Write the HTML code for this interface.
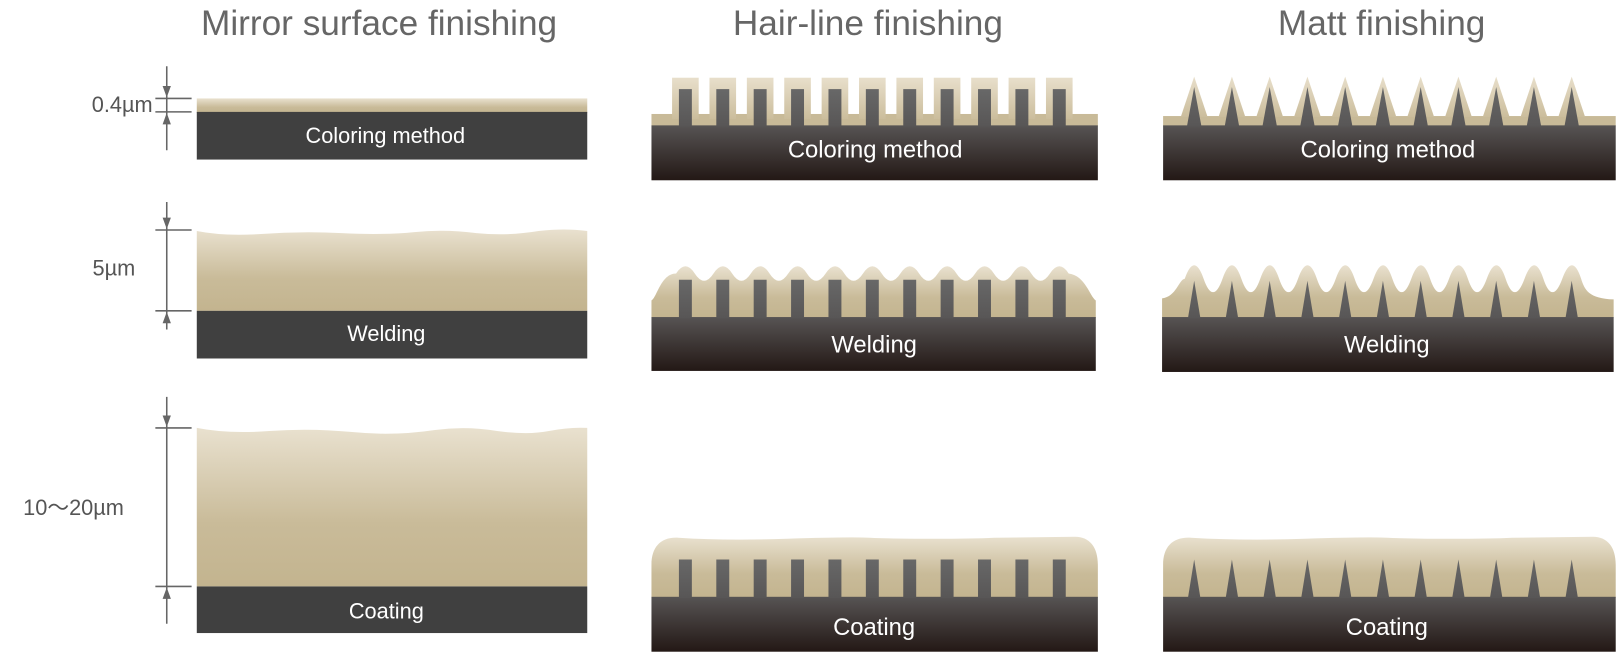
<!DOCTYPE html>
<html><head><meta charset="utf-8"><style>
html,body{margin:0;padding:0;background:#fff;}
svg{display:block;}
text{font-family:"Liberation Sans",sans-serif;}
</style></head><body>
<svg width="1624" height="660" viewBox="0 0 1568 637" preserveAspectRatio="none" xmlns="http://www.w3.org/2000/svg">
<defs>
<linearGradient id="tan" x1="0" y1="0" x2="0" y2="1"><stop offset="0" stop-color="#e9e1cf"/><stop offset="0.6" stop-color="#c9bb99"/><stop offset="1" stop-color="#c3b48f"/></linearGradient>
<linearGradient id="tanL" x1="0" y1="0" x2="0" y2="1"><stop offset="0" stop-color="#e8dfcb"/><stop offset="1" stop-color="#cbbd9c"/></linearGradient>
<linearGradient id="base" x1="0" y1="0" x2="0" y2="1"><stop offset="0" stop-color="#575454"/><stop offset="1" stop-color="#231815"/></linearGradient>
<linearGradient id="tooth" x1="0" y1="0" x2="0" y2="1"><stop offset="0" stop-color="#686868"/><stop offset="1" stop-color="#585656"/></linearGradient>
<g id="ht1"><rect x="-6.6" y="75" width="25.7" height="40" fill="url(#tanL)"/></g>
<g id="hd1"><rect x="0" y="86" width="12.5" height="36" fill="url(#tooth)"/></g>
<g id="hd2"><rect x="0" y="270" width="12.5" height="37" fill="url(#tooth)"/></g>
<g id="hd3"><rect x="0" y="540" width="12.5" height="37" fill="url(#tooth)"/></g>
<g id="mt1"><polygon points="-13,113 0,74 13,113" fill="url(#tanL)"/></g>
<g id="md1"><polygon points="-7,122 0,84 7,122" fill="url(#tooth)"/></g>
<g id="md2"><polygon points="-6,307 0,271 6,307" fill="url(#tooth)"/></g>
<g id="md3"><polygon points="-6,577 0,540 6,577" fill="url(#tooth)"/></g>
</defs>

<g fill="#666" font-size="34" text-anchor="middle">
<text x="366" y="34">Mirror surface finishing</text>
<text x="838" y="34">Hair-line finishing</text>
<text x="1334" y="34">Matt finishing</text>
</g>

<rect x="190" y="95" width="377" height="14" fill="url(#tan)"/>
<rect x="190" y="108" width="377" height="46" fill="#404040"/>
<path d="M190,300 L190,223 Q215,228 250,226 Q290,223 330,225 Q370,227 400,224 Q430,221 460,225 Q490,228 520,223 Q545,220 567,223 L567,300 Z" fill="url(#tan)"/>
<rect x="190" y="300" width="377" height="46" fill="#404040"/>
<path d="M190,566 L190,413 Q220,419 260,416 Q300,413 340,417 Q380,421 420,415 Q450,411 480,416 Q510,420 530,416 Q550,412 567,413 L567,566 Z" fill="url(#tan)"/>
<rect x="190" y="566" width="377" height="45" fill="#404040"/>
<g fill="#fff" font-size="21" text-anchor="middle">
<text x="372" y="138">Coloring method</text>
<text x="373" y="329">Welding</text>
<text x="373" y="597">Coating</text>
</g>
<g stroke="#666" stroke-width="1.5" fill="none">
<line x1="161" y1="64" x2="161" y2="145"/><line x1="150" y1="95" x2="185" y2="95"/><line x1="150" y1="108" x2="185" y2="108"/>
<line x1="161" y1="195" x2="161" y2="318"/><line x1="150" y1="222" x2="185" y2="222"/><line x1="150" y1="300" x2="185" y2="300"/>
<line x1="161" y1="383" x2="161" y2="602"/><line x1="150" y1="413" x2="185" y2="413"/><line x1="150" y1="566" x2="185" y2="566"/>
</g>
<g fill="#666">
<polygon points="157,83 165,83 161,94"/><polygon points="157,120 165,120 161,109"/>
<polygon points="157,210 165,210 161,221"/><polygon points="157,312 165,312 161,301"/>
<polygon points="157,401 165,401 161,412"/><polygon points="157,578 165,578 161,567"/>
</g>
<g fill="#555" font-size="21" text-anchor="middle">
<text x="118" y="108">0.4µm</text>
<text x="110" y="266">5µm</text>
<text x="71" y="497">10〜20µm</text>
</g>

<rect x="629" y="110" width="431" height="12" fill="#c8ba98"/>
<g>
<use href="#ht1" x="655.5"/><use href="#ht1" x="691.6"/><use href="#ht1" x="727.7"/><use href="#ht1" x="763.8"/><use href="#ht1" x="799.9"/><use href="#ht1" x="836"/><use href="#ht1" x="872.1"/><use href="#ht1" x="908.2"/><use href="#ht1" x="944.3"/><use href="#ht1" x="980.4"/><use href="#ht1" x="1016.5"/>
</g>
<rect x="629" y="121" width="431" height="53" fill="url(#base)"/>
<g>
<use href="#hd1" x="655.5"/><use href="#hd1" x="691.6"/><use href="#hd1" x="727.7"/><use href="#hd1" x="763.8"/><use href="#hd1" x="799.9"/><use href="#hd1" x="836"/><use href="#hd1" x="872.1"/><use href="#hd1" x="908.2"/><use href="#hd1" x="944.3"/><use href="#hd1" x="980.4"/><use href="#hd1" x="1016.5"/>
</g>
<path d="M629,307 L629,290 C634,288 638,264 652.8,264 Q661.8,250 670.8,264 T688.9,264 T706.9,264 T724.95,264 T743,264 T761.05,264 T779.1,264 T797.15,264 T815.2,264 T833.25,264 T851.3,264 T869.35,264 T887.4,264 T905.45,264 T923.5,264 T941.55,264 T959.6,264 T977.65,264 T995.7,264 T1013.75,264 T1031.8,264 C1048,266 1052,286 1058,290 L1058,307 Z" fill="url(#tan)"/>
<rect x="629" y="306" width="429" height="52" fill="url(#base)"/>
<g>
<use href="#hd2" x="655.5"/><use href="#hd2" x="691.6"/><use href="#hd2" x="727.7"/><use href="#hd2" x="763.8"/><use href="#hd2" x="799.9"/><use href="#hd2" x="836"/><use href="#hd2" x="872.1"/><use href="#hd2" x="908.2"/><use href="#hd2" x="944.3"/><use href="#hd2" x="980.4"/><use href="#hd2" x="1016.5"/>
</g>
<path d="M629,577 L629,545 C629,528 638,518 655,519 Q700,522 760,520 T840,519 T900,520 T960,519 L1038,518 C1052,518 1060,528 1060,545 L1060,577 Z" fill="url(#tan)"/>
<rect x="629" y="576" width="431" height="53" fill="url(#base)"/>
<g>
<use href="#hd3" x="655.5"/><use href="#hd3" x="691.6"/><use href="#hd3" x="727.7"/><use href="#hd3" x="763.8"/><use href="#hd3" x="799.9"/><use href="#hd3" x="836"/><use href="#hd3" x="872.1"/><use href="#hd3" x="908.2"/><use href="#hd3" x="944.3"/><use href="#hd3" x="980.4"/><use href="#hd3" x="1016.5"/>
</g>

<rect x="1123" y="112" width="437" height="10" fill="#c8ba98"/>
<g>
<use href="#mt1" x="1153"/><use href="#mt1" x="1189.45"/><use href="#mt1" x="1225.9"/><use href="#mt1" x="1262.35"/><use href="#mt1" x="1298.8"/><use href="#mt1" x="1335.25"/><use href="#mt1" x="1371.7"/><use href="#mt1" x="1408.15"/><use href="#mt1" x="1444.6"/><use href="#mt1" x="1481.05"/><use href="#mt1" x="1517.5"/>
</g>
<rect x="1123" y="121" width="437" height="53" fill="url(#base)"/>
<g>
<use href="#md1" x="1153"/><use href="#md1" x="1189.45"/><use href="#md1" x="1225.9"/><use href="#md1" x="1262.35"/><use href="#md1" x="1298.8"/><use href="#md1" x="1335.25"/><use href="#md1" x="1371.7"/><use href="#md1" x="1408.15"/><use href="#md1" x="1444.6"/><use href="#md1" x="1481.05"/><use href="#md1" x="1517.5"/>
</g>
<path d="M1122,307 L1122,288 C1136,286 1138,270 1143.9,269 Q1153,243 1162.1,269 T1180.35,269 T1198.55,269 T1216.8,269 T1235,269 T1253.25,269 T1271.45,269 T1289.7,269 T1307.9,269 T1326.15,269 T1344.35,269 T1362.6,269 T1380.8,269 T1399.05,269 T1417.25,269 T1435.5,269 T1453.7,269 T1471.95,269 T1490.15,269 T1508.4,269 T1526.6,269 C1530,280 1534,288 1558,289 L1558,307 Z" fill="url(#tan)"/>
<rect x="1122" y="306" width="436" height="53" fill="url(#base)"/>
<g>
<use href="#md2" x="1153"/><use href="#md2" x="1189.45"/><use href="#md2" x="1225.9"/><use href="#md2" x="1262.35"/><use href="#md2" x="1298.8"/><use href="#md2" x="1335.25"/><use href="#md2" x="1371.7"/><use href="#md2" x="1408.15"/><use href="#md2" x="1444.6"/><use href="#md2" x="1481.05"/><use href="#md2" x="1517.5"/>
</g>
<path d="M1123,577 L1123,545 C1123,528 1132,518 1150,519 Q1200,522 1260,520 T1340,519 T1400,520 T1460,519 L1538,518 C1552,518 1560,528 1560,545 L1560,577 Z" fill="url(#tan)"/>
<rect x="1123" y="576" width="437" height="53" fill="url(#base)"/>
<g>
<use href="#md3" x="1153"/><use href="#md3" x="1189.45"/><use href="#md3" x="1225.9"/><use href="#md3" x="1262.35"/><use href="#md3" x="1298.8"/><use href="#md3" x="1335.25"/><use href="#md3" x="1371.7"/><use href="#md3" x="1408.15"/><use href="#md3" x="1444.6"/><use href="#md3" x="1481.05"/><use href="#md3" x="1517.5"/>
</g>

<g fill="#fff" font-size="23" text-anchor="middle">
<text x="845" y="152">Coloring method</text>
<text x="844" y="340">Welding</text>
<text x="844" y="613">Coating</text>
<text x="1340" y="152">Coloring method</text>
<text x="1339" y="340">Welding</text>
<text x="1339" y="613">Coating</text>
</g>
</svg>
</body></html>
